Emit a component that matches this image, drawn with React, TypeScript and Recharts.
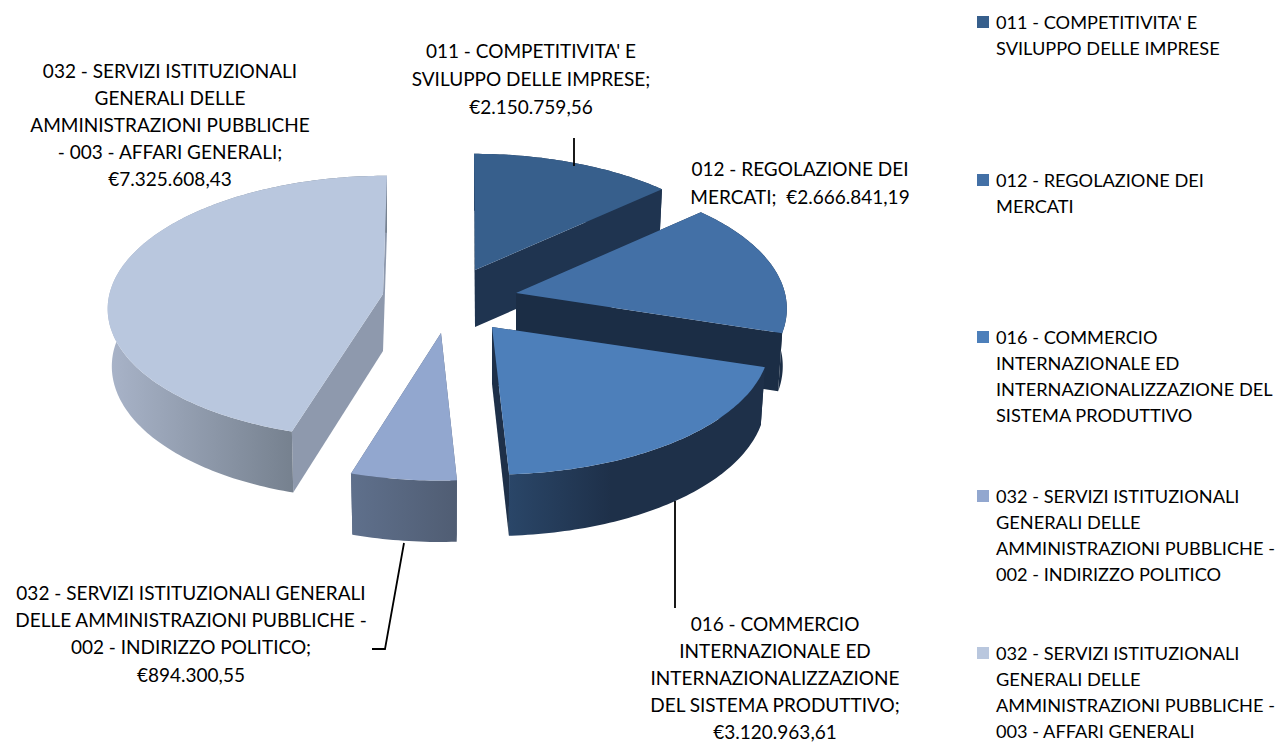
import { Legend, Pie, PieChart } from 'recharts';

const FONT = 'Lato, sans-serif';

// categories and values, in slice order
const NAMES = [
  "011 - COMPETITIVITA' E SVILUPPO DELLE IMPRESE",
  '012 - REGOLAZIONE DEI MERCATI',
  '016 - COMMERCIO INTERNAZIONALE ED INTERNAZIONALIZZAZIONE DEL SISTEMA PRODUTTIVO',
  '032 - SERVIZI ISTITUZIONALI GENERALI DELLE AMMINISTRAZIONI PUBBLICHE - 002 - INDIRIZZO POLITICO',
  '032 - SERVIZI ISTITUZIONALI GENERALI DELLE AMMINISTRAZIONI PUBBLICHE - 003 - AFFARI GENERALI',
];
const VALUES = [2150759.56, 2666841.19, 3120963.61, 894300.55, 7325608.43];

const LABEL_LINES = [
  ["011 - COMPETITIVITA' E", 'SVILUPPO DELLE IMPRESE;'],
  ['012 - REGOLAZIONE DEI', 'MERCATI;'],
  ['016 - COMMERCIO', 'INTERNAZIONALE ED', 'INTERNAZIONALIZZAZIONE', 'DEL SISTEMA PRODUTTIVO;'],
  ['032 - SERVIZI ISTITUZIONALI GENERALI', 'DELLE AMMINISTRAZIONI PUBBLICHE -', '002 - INDIRIZZO POLITICO;'],
  ['032 - SERVIZI ISTITUZIONALI', 'GENERALI DELLE', 'AMMINISTRAZIONI PUBBLICHE', '- 003 - AFFARI GENERALI;'],
];
const LEGEND_LINES = [
  ["011 - COMPETITIVITA' E", 'SVILUPPO DELLE IMPRESE'],
  ['012 - REGOLAZIONE DEI', 'MERCATI'],
  ['016 - COMMERCIO', 'INTERNAZIONALE ED', 'INTERNAZIONALIZZAZIONE DEL', 'SISTEMA PRODUTTIVO'],
  ['032 - SERVIZI ISTITUZIONALI', 'GENERALI DELLE', 'AMMINISTRAZIONI PUBBLICHE -', '002 - INDIRIZZO POLITICO'],
  ['032 - SERVIZI ISTITUZIONALI', 'GENERALI DELLE', 'AMMINISTRAZIONI PUBBLICHE -', '003 - AFFARI GENERALI'],
];

const TOP_COLORS = ['#375f8c', '#4370a6', '#4d7fba', '#92a7cf', '#b9c7de'];
const SIDE_COLORS = ['#1f3450', '#1b2d45', '#1e3049', '#55627a', '#8e99ad'];
// left / right colour of the curved outer wall
const WALL_STOPS = [
  ['#1f3450', '#1f3450'],
  ['#1b2d45', '#1b2d45'],
  ['#2a4668', '#1e3049'],
  ['#5f708c', '#505d73'],
  ['#a9b4c9', '#76818f'],
];

// explosion of each slice from the pie centre, plus per-slice perspective tweaks
const EXPLODE = [
  [35, -30],
  [76, -7],
  [52, 27],
  [1, 33],
  [-57, -6],
];
const LEAN = [-1, 0, 0, 1, 4];
const RADIUS_SCALE = [1, 0.985, 1.01, 1, 1.002];
const PERSPECTIVE = [0.119, 0.119, 0.119, 0.119, 0.099];

// fake 3D projection
const CX = 440;
const CY = 300;
const RADIUS = 273;
const TILT_RY = 130;
const DEPTH = 57;
const BOTTOM_SHRINK = 0.985;

const LABEL_POS = [
  { x: 531, y: 50, gap: 28 },
  { x: 800, y: 168, gap: 28 },
  { x: 775, y: 623, gap: 27.2 },
  { x: 191, y: 592, gap: 27.4 },
  { x: 170, y: 70, gap: 27.2 },
];
const LEADERS = [
  [[574, 138], [574, 166]],
  [],
  [[675, 501], [675, 608]],
  [[404, 543], [385, 649], [372, 649]],
  [],
];
const LEGEND_Y = [22, 180, 337, 496, 653];

const chartData = NAMES.map((name, i) => ({ name, value: VALUES[i] }));

const euro = (v: number) => {
  const [int, dec] = v.toFixed(2).split('.');
  return `€${int.replace(/\B(?=(\d{3})+$)/g, '.')},${dec}`;
};

function project(theta: number, i: number) {
  const rad = (theta * Math.PI) / 180;
  const cos = Math.cos(rad);
  const s = 1 / (1 + PERSPECTIVE[i] * cos);
  return [RADIUS * RADIUS_SCALE[i] * Math.sin(rad) * s + LEAN[i] * cos, -TILT_RY * cos * s];
}

function topPoint(ax: number, ay: number, theta: number, i: number) {
  const [x, y] = project(theta, i);
  return [ax + x, ay + y];
}

function bottomPoint(ax: number, ay: number, theta: number, i: number) {
  const [x, y] = project(theta, i);
  return [ax + x * BOTTOM_SHRINK, ay + DEPTH + (y > 0 ? y * 1.03 : y)];
}

const toPath = (pts: number[][]) =>
  'M' + pts.map((p) => `${p[0].toFixed(2)},${p[1].toFixed(2)}`).join('L') + 'Z';

function Slice3D(props: any) {
  const i = NAMES.indexOf(props.name);
  const ax = props.cx + EXPLODE[i][0];
  const ay = props.cy + EXPLODE[i][1];
  // recharts angles are counter-clockwise from 3 o'clock
  const from = 90 - props.startAngle;
  const to = 90 - props.endAngle;
  const thetas: number[] = [];
  for (let t = from; t < to; t += 1) thetas.push(t);
  thetas.push(to);

  const topArc = thetas.map((t) => topPoint(ax, ay, t, i));
  const bottomArc = thetas.map((t) => bottomPoint(ax, ay, t, i));
  const apexTop = [ax, ay];
  const apexBottom = [ax, ay + DEPTH];
  const gradId = `wall-${i}`;

  return (
    <g>
      <defs>
        <linearGradient id={gradId} x1="0" y1="0" x2="1" y2="0">
          <stop offset="0" stopColor={WALL_STOPS[i][0]} />
          <stop offset={i === 2 ? '0.4' : i === 4 ? '0.66' : '1'} stopColor={WALL_STOPS[i][1]} />
        </linearGradient>
      </defs>
      <path d={toPath([apexTop, topArc[0], bottomArc[0], apexBottom])} fill={SIDE_COLORS[i]} />
      <path
        d={toPath([apexTop, topArc[topArc.length - 1], bottomArc[bottomArc.length - 1], apexBottom])}
        fill={SIDE_COLORS[i]}
      />
      <path d={toPath([...topArc, ...[...bottomArc].reverse()])} fill={`url(#${gradId})`} />
      <path d={toPath([apexTop, ...topArc])} fill={TOP_COLORS[i]} />
    </g>
  );
}

function SliceLabel(props: any) {
  const i = NAMES.indexOf(props.name);
  const pos = LABEL_POS[i];
  const text = [...LABEL_LINES[i]];
  const amount = euro(VALUES[i]);
  // the 012 label keeps its amount on the last line
  if (i === 1) text[1] = `${text[1]}  ${amount}`;
  else text.push(amount);
  const leader = LEADERS[i];
  return (
    <g>
      {leader.length > 0 && (
        <polyline
          points={leader.map((p) => p.join(',')).join(' ')}
          fill="none"
          stroke="#000"
          strokeWidth={1.8}
        />
      )}
      {text.map((line, n) => (
        <text
          key={n}
          x={pos.x}
          y={pos.y + n * pos.gap}
          textAnchor="middle"
          dominantBaseline="central"
          fontFamily={FONT}
          fontSize={19}
          fill="#000"
          xmlSpace="preserve"
        >
          {line}
        </text>
      ))}
    </g>
  );
}

function SideLegend() {
  return (
    <svg width={308} height={742} style={{ display: 'block' }}>
      {LEGEND_LINES.map((lines, i) => (
        <g key={i}>
          <rect x={7} y={LEGEND_Y[i] - 6} width={12} height={12} fill={TOP_COLORS[i]} />
          {lines.map((line, n) => (
            <text
              key={n}
              x={26}
              y={LEGEND_Y[i] + n * 26}
              dominantBaseline="central"
              fontFamily={FONT}
              fontSize={18.2}
              fill="#000"
            >
              {line}
            </text>
          ))}
        </g>
      ))}
    </svg>
  );
}

export default function App() {
  return (
    <div style={{ position: 'absolute', left: 0, top: 0, width: 1278, height: 742 }}>
      <PieChart width={1278} height={742} margin={{ top: 0, right: 0, bottom: 0, left: 0 }}>
        <Pie
          data={chartData}
          dataKey="value"
          nameKey="name"
          cx={CX}
          cy={CY}
          outerRadius={RADIUS}
          startAngle={90}
          endAngle={-270}
          stroke="none"
          shape={Slice3D}
          label={SliceLabel}
          labelLine={false}
          isAnimationActive={false}
        />
        <Legend
          content={SideLegend}
          wrapperStyle={{ position: 'absolute', left: 970, top: 0, width: 308, height: 742 }}
        />
      </PieChart>
    </div>
  );
}
